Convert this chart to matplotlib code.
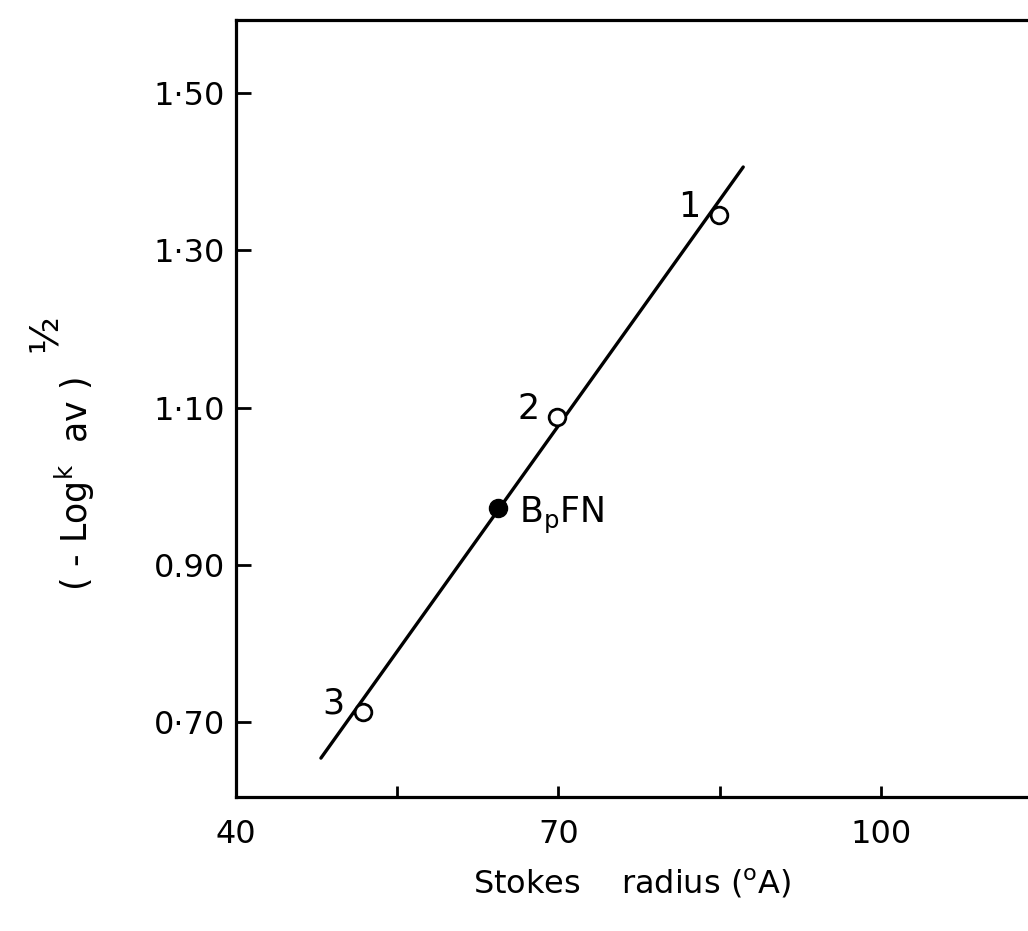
import matplotlib.pyplot as plt

# data
radius = [84.9, 69.9, 51.8]
kav = [1.345, 1.088, 0.713]
point_names = ["1", "2", "3"]

bpfn_radius = 64.4
bpfn_kav = 0.972

fit_x = [47.9, 87.2]
fit_y = [0.654, 1.406]

yticks = [0.70, 0.90, 1.10, 1.30, 1.50]
ytick_labels = ["0·70", "0.90", "1·10", "1·30", "1·50"]
xticks = [40, 55, 70, 85, 100]
xtick_labels = ["40", "", "70", "", "100"]

plt.rcParams['font.family'] = ['DejaVu Sans']

fig = plt.figure(figsize=(10.28, 9.31), dpi=100)
ax = fig.add_axes([0.2296, 0.144, 0.7704, 0.8345])

ax.plot(fit_x, fit_y, color='black', lw=2.4, solid_capstyle='round')
ax.plot(radius, kav, 'o', ms=12, mfc='white', mec='black', mew=2)
ax.plot([bpfn_radius], [bpfn_kav], 'o', ms=13, color='black')

for x, y, name in zip(radius, kav, point_names):
    ax.annotate(name, (x, y), xytext=(-21, 6), textcoords='offset points',
                ha='center', va='center', fontsize=25)
ax.annotate("B$_{\\mathrm{p}}$FN", (bpfn_radius, bpfn_kav), xytext=(15, -5),
            textcoords='offset points', ha='left', va='center', fontsize=25)

ax.set_xlim(40, 113.7)
ax.set_ylim(0.6046, 1.593)

ax.set_xticks(xticks)
ax.set_xticklabels(xtick_labels)
ax.set_yticks(yticks)
ax.set_yticklabels(ytick_labels)
ax.tick_params(axis='both', direction='in', width=2, labelsize=23)
ax.tick_params(axis='x', length=8, pad=16)
ax.tick_params(axis='y', length=11, pad=8)

ax.spines['right'].set_visible(False)
for s in ['left', 'top', 'bottom']:
    ax.spines[s].set_linewidth(2.3)

ax.set_xlabel("Stokes    radius ($^{\\mathrm{o}}$A)", fontsize=23, labelpad=12)
ax.set_ylabel("( - Log$^{\\mathrm{k}}$  av )", fontsize=25)
ax.yaxis.set_label_coords(-0.175, 0.403)
# the exponent of the y label
fig.text(0.044, 0.642, "½", rotation=90, fontsize=28, ha='center', va='center')

fig.savefig("out.png", dpi=100)
